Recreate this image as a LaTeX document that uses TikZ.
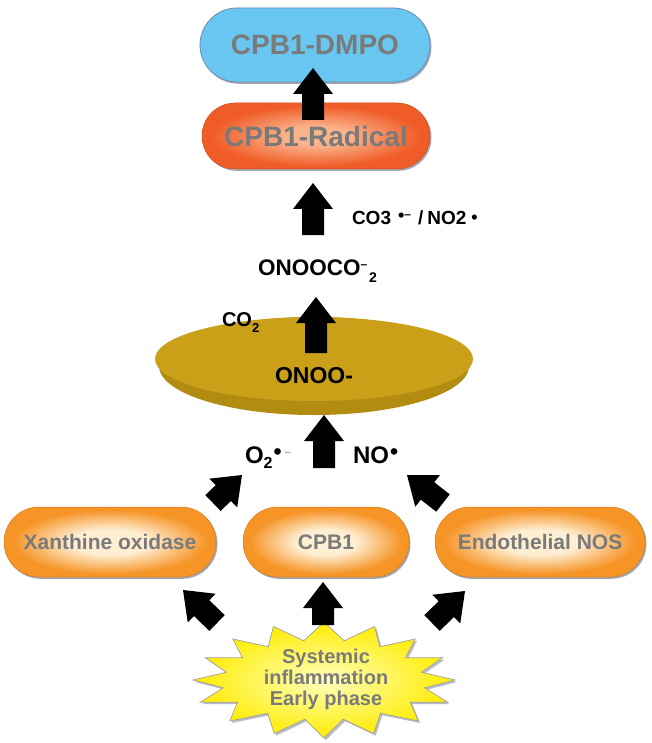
\documentclass[tikz,border=0pt]{standalone}
\usepackage{fontspec}
\setmainfont{Liberation Sans}
\usetikzlibrary{calc,shapes.geometric,shadows}

\definecolor{txtgray}{RGB}{122,122,122}
\definecolor{orEdge}{RGB}{246,148,38}
\definecolor{orPale}{RGB}{254,238,210}
\definecolor{rdEdge}{RGB}{240,92,40}
\definecolor{rdPale}{RGB}{250,180,140}
\definecolor{dmpoBlue}{RGB}{104,198,240}
\definecolor{dmpoLine}{RGB}{110,140,175}
\definecolor{gold}{RGB}{201,160,24}
\definecolor{goldDark}{RGB}{178,140,16}
\definecolor{starYellow}{RGB}{255,236,0}
\definecolor{starPale}{RGB}{255,255,190}
\definecolor{shadowGray}{RGB}{140,145,165}

\pgfdeclareradialshading{orangeglow}{\pgfpoint{0bp}{0bp}}{color(0bp)=(orPale); color(9bp)=(orPale); color(23bp)=(orEdge); color(50bp)=(orEdge)}
\pgfdeclareradialshading{redglow}{\pgfpoint{0bp}{0bp}}{color(0bp)=(rdPale); color(7bp)=(rdPale); color(23bp)=(rdEdge); color(50bp)=(rdEdge)}

\newcommand\fsz[1]{\fontsize{#1}{#1}\selectfont}
% block arrow from tail coordinate #1 to tip coordinate #2
\newcommand\blockarrow[2]{%
  \coordinate (bah) at ($(#2)!26pt!(#1)$);
  \fill[black] ($(#1)!11pt!90:(#2)$) -- ($(bah)!11pt!-90:(#1)$) -- ($(bah)!20pt!-90:(#1)$) -- (#2)
    -- ($(bah)!20pt!90:(#1)$) -- ($(bah)!11pt!90:(#1)$) -- ($(#1)!11pt!-90:(#2)$) -- cycle;}

\begin{document}
\begin{tikzpicture}[x=1pt,y=-1pt,
  every node/.style={inner sep=0pt, outer sep=0pt},
  pillbase/.style={rectangle, minimum height=70pt, rounded corners=35pt, text=txtgray,
     font=\bfseries\fsz{21},
     drop shadow={shadow xshift=1.5pt,shadow yshift=-1.8pt,fill=shadowGray,opacity=0.8}},
  orangepill/.style={pillbase, shade, shading=orangeglow, draw=orEdge!85!black, line width=0.5pt},
  redpill/.style={pillbase, minimum height=66pt, rounded corners=33pt, shade, shading=redglow,
     draw=rdEdge!85!black, line width=0.5pt, font=\bfseries\fsz{28}},
  bluepill/.style={pillbase, minimum height=74pt, rounded corners=37pt, fill=dmpoBlue,
     draw=dmpoLine, line width=0.8pt, font=\bfseries\fsz{28}},
  chem/.style={anchor=base west, text=black}
]
\fill[white] (0,0) rectangle (651,743);
\useasboundingbox (0,0) rectangle (651,743);

% top pills
\node[bluepill, minimum width=230pt] (dmpo) at (315,45) {CPB1-DMPO};
\node[redpill, minimum width=228pt] (radical) at (316,136) {CPB1-Radical};

% chemistry labels
\node[chem, font=\bfseries\fsz{19}] (co3) at (352,225)
  {CO3\hspace{7pt}\raisebox{3.3pt}{\fsz{18}•}\raisebox{6.5pt}{\fsz{12}–}\hspace{7pt}/\hspace{4pt}NO2\hspace{5pt}\raisebox{1.5pt}{\fsz{18}•}};
\node[chem, font=\bfseries\fsz{22.5}] (onooco) at (258,275)
  {ONOOCO\raisebox{6.5pt}{\fsz{12}–}\hspace{2pt}\raisebox{-7pt}{\fsz{14}2}};

% disc (plate with darker rim)
\node[ellipse, fill=goldDark, minimum width=310pt, minimum height=98pt] (rim) at (314,366) {};
\node[ellipse, fill=gold, minimum width=318pt, minimum height=84pt] (disc) at (314,359) {};
\node[chem, font=\bfseries\fsz{23}] (onoo) at (275,383) {ONOO-};
\node[chem, font=\bfseries\fsz{20}] (co2) at (222,326) {CO\raisebox{-6pt}{\fsz{13}2}};

\node[chem, font=\bfseries\fsz{24}] (o2) at (245,463)
  {O\raisebox{-5pt}{\fsz{16}2}\hspace{1pt}\raisebox{3.5pt}{\fsz{23}•}\hspace{3pt}\raisebox{8pt}{\color{gray}\mdseries\fsz{11}–}};
\node[chem, font=\bfseries\fsz{24}] (no) at (353,463) {NO\hspace{1pt}\raisebox{3.5pt}{\fsz{23}•}};

% sources
\node[orangepill, minimum width=212pt] (xo) at (110,542) {Xanthine oxidase};
\node[orangepill, minimum width=166pt] (cpb1) at (326,542) {CPB1};
\node[orangepill, minimum width=210pt] (enos) at (540,542) {Endothelial NOS};

% starburst
\fill[shadowGray, opacity=0.6, xshift=2pt, yshift=-2pt]
  plot[domain=0:348.75, samples=32] ({324+(116+15*cos(16*\x)+3*sin(3*\x))*cos(\x)},{680+(49+9*cos(16*\x))*sin(\x)}) -- cycle;
\shadedraw[inner color=starPale, outer color=starYellow, draw=gray!75, line width=0.7pt]
  plot[domain=0:348.75, samples=32] ({324+(116+15*cos(16*\x)+3*sin(3*\x))*cos(\x)},{680+(49+9*cos(16*\x))*sin(\x)}) -- cycle;
\node[align=center, font=\bfseries\fontsize{20}{21}\selectfont, text=txtgray] (star) at (326,679)
  {Systemic\\inflammation\\Early phase};

% arrow end points
\coordinate (a1t) at (313,120);  \coordinate (a1h) at (313,68);
\coordinate (a2t) at (313,235);  \coordinate (a2h) at (313,183);
\coordinate (a3t) at (316,353);  \coordinate (a3h) at (316,297);
\coordinate (a4t) at (324,468);  \coordinate (a4h) at (324,415);
\coordinate (a5t) at (213,503);  \coordinate (a5h) at (242,475);
\coordinate (a6t) at (443,503);  \coordinate (a6h) at (407,475);
\coordinate (a7t) at (217,623);  \coordinate (a7h) at (183,590);
\coordinate (a8t) at (323,625);  \coordinate (a8h) at (323,582);
\coordinate (a9t) at (432,623);  \coordinate (a9h) at (465,591);

\blockarrow{a1t}{a1h}
\blockarrow{a2t}{a2h}
\blockarrow{a3t}{a3h}
\blockarrow{a4t}{a4h}
\blockarrow{a5t}{a5h}
\blockarrow{a6t}{a6h}
\blockarrow{a7t}{a7h}
\blockarrow{a8t}{a8h}
\blockarrow{a9t}{a9h}
\end{tikzpicture}
\end{document}
